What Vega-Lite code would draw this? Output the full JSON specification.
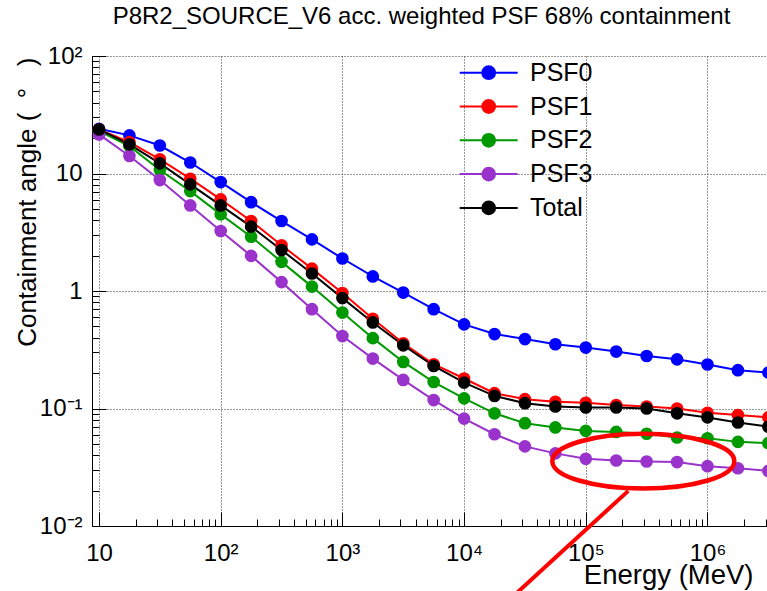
{
  "$schema": "https://vega.github.io/schema/vega-lite/v6.json",
  "width": 675,
  "height": 470,
  "autosize": {"type": "none"},
  "padding": {"left": 92, "top": 56, "right": 0, "bottom": 65},
  "background": "white",
  "config": {"view": {"stroke": null}, "font": "Liberation Sans"},
  "title": {"text": "P8R2_SOURCE_V6 acc. weighted PSF 68% containment", "fontSize": 24, "font": "Liberation Sans", "fontWeight": "normal", "color": "black", "frame": "group", "anchor": "middle", "baseline": "alphabetic", "offset": -4, "dx": -8},
  "datasets": {
    "psf": [
      {"series": "PSF0", "energy": 10, "angle": 24.0}, {"series": "PSF0", "energy": 17.78, "angle": 21.1}, {"series": "PSF0", "energy": 31.62, "angle": 17.3}, {"series": "PSF0", "energy": 56.23, "angle": 12.4}, {"series": "PSF0", "energy": 100, "angle": 8.45}, {"series": "PSF0", "energy": 177.8, "angle": 5.7}, {"series": "PSF0", "energy": 316.2, "angle": 3.94}, {"series": "PSF0", "energy": 562.3, "angle": 2.75}, {"series": "PSF0", "energy": 1000, "angle": 1.89}, {"series": "PSF0", "energy": 1778, "angle": 1.33}, {"series": "PSF0", "energy": 3162, "angle": 0.97}, {"series": "PSF0", "energy": 5623, "angle": 0.70}, {"series": "PSF0", "energy": 10000, "angle": 0.52}, {"series": "PSF0", "energy": 17780, "angle": 0.43}, {"series": "PSF0", "energy": 31620, "angle": 0.39}, {"series": "PSF0", "energy": 56230, "angle": 0.352}, {"series": "PSF0", "energy": 100000, "angle": 0.330}, {"series": "PSF0", "energy": 177800, "angle": 0.305}, {"series": "PSF0", "energy": 316200, "angle": 0.280}, {"series": "PSF0", "energy": 562300, "angle": 0.262}, {"series": "PSF0", "energy": 1000000, "angle": 0.237}, {"series": "PSF0", "energy": 1778000, "angle": 0.212}, {"series": "PSF0", "energy": 3162000, "angle": 0.202},
      {"series": "PSF1", "energy": 10, "angle": 23.7}, {"series": "PSF1", "energy": 17.78, "angle": 18.5}, {"series": "PSF1", "energy": 31.62, "angle": 13.2}, {"series": "PSF1", "energy": 56.23, "angle": 9.03}, {"series": "PSF1", "energy": 100, "angle": 6.02}, {"series": "PSF1", "energy": 177.8, "angle": 3.94}, {"series": "PSF1", "energy": 316.2, "angle": 2.45}, {"series": "PSF1", "energy": 562.3, "angle": 1.55}, {"series": "PSF1", "energy": 1000, "angle": 0.96}, {"series": "PSF1", "energy": 1778, "angle": 0.58}, {"series": "PSF1", "energy": 3162, "angle": 0.359}, {"series": "PSF1", "energy": 5623, "angle": 0.238}, {"series": "PSF1", "energy": 10000, "angle": 0.180}, {"series": "PSF1", "energy": 17780, "angle": 0.135}, {"series": "PSF1", "energy": 31620, "angle": 0.120}, {"series": "PSF1", "energy": 56230, "angle": 0.114}, {"series": "PSF1", "energy": 100000, "angle": 0.112}, {"series": "PSF1", "energy": 177800, "angle": 0.107}, {"series": "PSF1", "energy": 316200, "angle": 0.104}, {"series": "PSF1", "energy": 562300, "angle": 0.100}, {"series": "PSF1", "energy": 1000000, "angle": 0.092}, {"series": "PSF1", "energy": 1778000, "angle": 0.088}, {"series": "PSF1", "energy": 3162000, "angle": 0.084},
      {"series": "PSF2", "energy": 10, "angle": 22.9}, {"series": "PSF2", "energy": 17.78, "angle": 17.1}, {"series": "PSF2", "energy": 31.62, "angle": 10.7}, {"series": "PSF2", "energy": 56.23, "angle": 7.08}, {"series": "PSF2", "energy": 100, "angle": 4.49}, {"series": "PSF2", "energy": 177.8, "angle": 2.90}, {"series": "PSF2", "energy": 316.2, "angle": 1.77}, {"series": "PSF2", "energy": 562.3, "angle": 1.09}, {"series": "PSF2", "energy": 1000, "angle": 0.655}, {"series": "PSF2", "energy": 1778, "angle": 0.397}, {"series": "PSF2", "energy": 3162, "angle": 0.249}, {"series": "PSF2", "energy": 5623, "angle": 0.168}, {"series": "PSF2", "energy": 10000, "angle": 0.122}, {"series": "PSF2", "energy": 17780, "angle": 0.091}, {"series": "PSF2", "energy": 31620, "angle": 0.075}, {"series": "PSF2", "energy": 56230, "angle": 0.069}, {"series": "PSF2", "energy": 100000, "angle": 0.0645}, {"series": "PSF2", "energy": 177800, "angle": 0.0632}, {"series": "PSF2", "energy": 316200, "angle": 0.061}, {"series": "PSF2", "energy": 562300, "angle": 0.0567}, {"series": "PSF2", "energy": 1000000, "angle": 0.0558}, {"series": "PSF2", "energy": 1778000, "angle": 0.052}, {"series": "PSF2", "energy": 3162000, "angle": 0.0507},
      {"series": "PSF3", "energy": 10, "angle": 21.5}, {"series": "PSF3", "energy": 17.78, "angle": 14.1}, {"series": "PSF3", "energy": 31.62, "angle": 8.79}, {"series": "PSF3", "energy": 56.23, "angle": 5.35}, {"series": "PSF3", "energy": 100, "angle": 3.24}, {"series": "PSF3", "energy": 177.8, "angle": 1.99}, {"series": "PSF3", "energy": 316.2, "angle": 1.19}, {"series": "PSF3", "energy": 562.3, "angle": 0.70}, {"series": "PSF3", "energy": 1000, "angle": 0.414}, {"series": "PSF3", "energy": 1778, "angle": 0.266}, {"series": "PSF3", "energy": 3162, "angle": 0.175}, {"series": "PSF3", "energy": 5623, "angle": 0.118}, {"series": "PSF3", "energy": 10000, "angle": 0.082}, {"series": "PSF3", "energy": 17780, "angle": 0.0604}, {"series": "PSF3", "energy": 31620, "angle": 0.0476}, {"series": "PSF3", "energy": 56230, "angle": 0.0415}, {"series": "PSF3", "energy": 100000, "angle": 0.0373}, {"series": "PSF3", "energy": 177800, "angle": 0.0361}, {"series": "PSF3", "energy": 316200, "angle": 0.0354}, {"series": "PSF3", "energy": 562300, "angle": 0.035}, {"series": "PSF3", "energy": 1000000, "angle": 0.0323}, {"series": "PSF3", "energy": 1778000, "angle": 0.031}, {"series": "PSF3", "energy": 3162000, "angle": 0.0294},
      {"series": "Total", "energy": 10, "angle": 23.7}, {"series": "Total", "energy": 17.78, "angle": 17.7}, {"series": "Total", "energy": 31.62, "angle": 12.2}, {"series": "Total", "energy": 56.23, "angle": 8.08}, {"series": "Total", "energy": 100, "angle": 5.35}, {"series": "Total", "energy": 177.8, "angle": 3.53}, {"series": "Total", "energy": 316.2, "angle": 2.23}, {"series": "Total", "energy": 562.3, "angle": 1.41}, {"series": "Total", "energy": 1000, "angle": 0.87}, {"series": "Total", "energy": 1778, "angle": 0.54}, {"series": "Total", "energy": 3162, "angle": 0.345}, {"series": "Total", "energy": 5623, "angle": 0.230}, {"series": "Total", "energy": 10000, "angle": 0.166}, {"series": "Total", "energy": 17780, "angle": 0.128}, {"series": "Total", "energy": 31620, "angle": 0.111}, {"series": "Total", "energy": 56230, "angle": 0.104}, {"series": "Total", "energy": 100000, "angle": 0.102}, {"series": "Total", "energy": 177800, "angle": 0.102}, {"series": "Total", "energy": 316200, "angle": 0.100}, {"series": "Total", "energy": 562300, "angle": 0.091}, {"series": "Total", "energy": 1000000, "angle": 0.084}, {"series": "Total", "energy": 1778000, "angle": 0.076}, {"series": "Total", "energy": 3162000, "angle": 0.070}
    ],
    "note": [{"x": 296900, "y": 0.03564}],
    "arrow": [{"x": 26500, "y": 0.002636, "x2": 223400, "y2": 0.0199}]
  },
  "layer": [
    {
      "data": {"name": "psf"},
      "mark": {"type": "line", "strokeWidth": 2},
      "encoding": {
        "x": {
          "field": "energy", "type": "quantitative",
          "scale": {"type": "log", "domain": [8.759, 3083000], "nice": false},
          "axis": {
            "title": "Energy (MeV)", "titleFont": "Liberation Sans", "titleFontSize": 27.5, "titleFontWeight": "normal", "titleColor": "black",
            "titleAlign": "right", "titleBaseline": "alphabetic", "titleX": 661, "titleY": 57,
            "values": [10, 20, 30, 40, 50, 60, 70, 80, 90, 100, 200, 300, 400, 500, 600, 700, 800, 900, 1000, 2000, 3000, 4000, 5000, 6000, 7000, 8000, 9000, 10000, 20000, 30000, 40000, 50000, 60000, 70000, 80000, 90000, 100000, 200000, 300000, 400000, 500000, 600000, 700000, 800000, 900000, 1000000, 2000000, 3000000],
            "labelExpr": "datum.value == 10 ? '10' : datum.value == 100 ? '10²' : datum.value == 1000 ? '10³' : datum.value == 10000 ? '10⁴' : datum.value == 100000 ? '10⁵' : datum.value == 1000000 ? '10⁶' : ''",
            "labelFont": "Liberation Sans", "labelFontSize": 24, "labelColor": "black", "labelPadding": 29,
            "labelFlush": false, "labelOverlap": false, "labelBound": false,
            "tickSize": {"condition": {"test": "abs(log(datum.value)/LN10 - round(log(datum.value)/LN10)) < 1e-6", "value": -14}, "value": -7},
            "tickColor": "black", "tickWidth": 1,
            "domainColor": "black", "domainWidth": 1,
            "grid": true, "gridColor": "#333333", "gridDash": [1, 2], "gridWidth": 1,
            "gridOpacity": {"condition": {"test": "abs(log(datum.value)/LN10 - round(log(datum.value)/LN10)) < 1e-6", "value": 1}, "value": 0}
          }
        },
        "y": {
          "field": "angle", "type": "quantitative",
          "scale": {"type": "log", "domain": [0.01, 100], "nice": false},
          "axis": {
            "title": "Containment angle (\u00a0\u00a0°\u00a0\u00a0\u00a0)", "titleFont": "Liberation Sans", "titleFontSize": 26, "titleFontWeight": "normal", "titleColor": "black",
            "titleAngle": -90, "titleAlign": "right", "titleBaseline": "alphabetic", "titleX": -57, "titleY": 1,
            "values": [0.01, 0.02, 0.03, 0.04, 0.05, 0.06, 0.07, 0.08, 0.09, 0.1, 0.2, 0.3, 0.4, 0.5, 0.6, 0.7, 0.8, 0.9, 1, 2, 3, 4, 5, 6, 7, 8, 9, 10, 20, 30, 40, 50, 60, 70, 80, 90, 100],
            "labelExpr": "datum.value == 100 ? '10²' : datum.value == 10 ? '10' : datum.value == 1 ? '1' : datum.value == 0.1 ? '10⁻¹' : datum.value == 0.01 ? '10⁻²' : ''",
            "labelFont": "Liberation Sans", "labelFontSize": 24, "labelColor": "black", "labelPadding": 24,
            "labelFlush": false, "labelOverlap": false, "labelBound": false,
            "tickSize": {"condition": {"test": "abs(log(datum.value)/LN10 - round(log(datum.value)/LN10)) < 1e-6", "value": -14}, "value": -7},
            "tickColor": "black", "tickWidth": 1,
            "domainColor": "black", "domainWidth": 1,
            "grid": true, "gridColor": "#333333", "gridDash": [1, 2], "gridWidth": 1,
            "gridOpacity": {"condition": {"test": "abs(log(datum.value)/LN10 - round(log(datum.value)/LN10)) < 1e-6", "value": 1}, "value": 0}
          }
        },
        "color": {
          "field": "series", "type": "nominal",
          "scale": {"domain": ["PSF0", "PSF1", "PSF2", "PSF3", "Total"], "range": ["#0000ff", "#ff0000", "#009900", "#9933cc", "#000000"]},
          "legend": {
            "title": null, "orient": "none", "legendX": 366.7, "legendY": 4.2, "padding": 0,
            "symbolType": "M-1,0L1,0M-0.22,0A0.22,0.22,0,1,1,0.22,0A0.22,0.22,0,1,1,-0.22,0Z",
            "symbolSize": 3364, "symbolStrokeWidth": 2, "symbolOpacity": 1,
            "clipHeight": 25, "rowPadding": 7.8, "labelOffset": 11.3,
            "labelFont": "Liberation Sans", "labelFontSize": 25, "labelColor": "black", "labelLimit": 0,
            "encode": {"symbols": {"update": {"stroke": {"scale": "color", "field": "value"}, "fill": {"scale": "color", "field": "value"}}}}
          }
        }
      }
    },
    {
      "data": {"name": "psf"},
      "mark": {"type": "point", "filled": true, "opacity": 1, "size": 160, "shape": "circle"},
      "encoding": {
        "x": {"field": "energy", "type": "quantitative"},
        "y": {"field": "angle", "type": "quantitative"},
        "color": {"field": "series", "type": "nominal"}
      }
    },
    {
      "mark": {"type": "rule", "color": "#555555", "strokeWidth": 1.5},
      "encoding": {"y": {"datum": 100, "type": "quantitative"}}
    },
    {
      "data": {"name": "note"},
      "mark": {"type": "point", "shape": "M-1,0A1,0.301,0,1,1,1,0A1,0.301,0,1,1,-1,0Z", "filled": false, "stroke": "#ff0000", "strokeWidth": 4.5, "size": 33124, "opacity": 1},
      "encoding": {
        "x": {"field": "x", "type": "quantitative"},
        "y": {"field": "y", "type": "quantitative"}
      }
    },
    {
      "data": {"name": "arrow"},
      "mark": {"type": "rule", "color": "#ff0000", "strokeWidth": 4},
      "encoding": {
        "x": {"field": "x", "type": "quantitative"},
        "y": {"field": "y", "type": "quantitative"},
        "x2": {"field": "x2"},
        "y2": {"field": "y2"}
      }
    }
  ]
}
